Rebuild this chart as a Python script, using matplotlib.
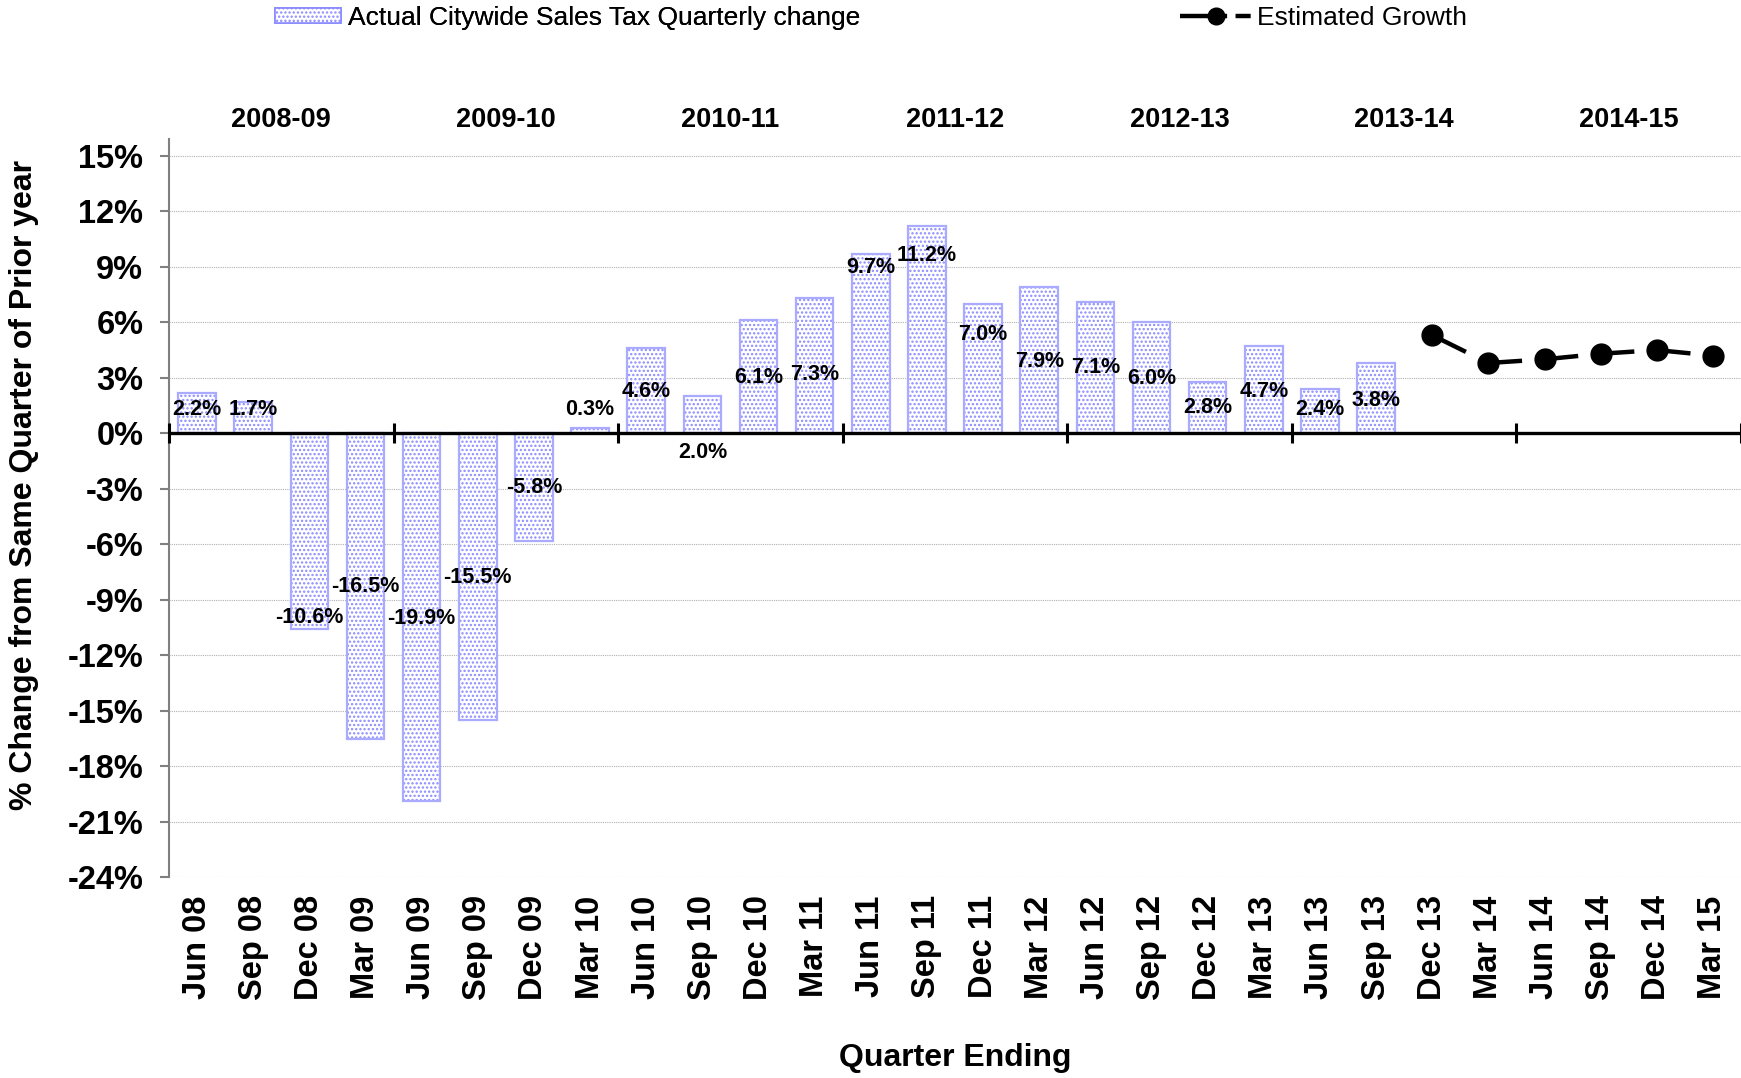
import numpy as np
import matplotlib
matplotlib.use('Agg')
import matplotlib.pyplot as plt
from matplotlib.patches import Patch
from matplotlib.lines import Line2D

plt.rcParams['font.family'] = ['Liberation Sans', 'DejaVu Sans']
plt.rcParams['hatch.linewidth'] = 1.1

quarters = ['Jun 08', 'Sep 08', 'Dec 08', 'Mar 09', 'Jun 09', 'Sep 09', 'Dec 09', 'Mar 10',
            'Jun 10', 'Sep 10', 'Dec 10', 'Mar 11', 'Jun 11', 'Sep 11', 'Dec 11', 'Mar 12',
            'Jun 12', 'Sep 12', 'Dec 12', 'Mar 13', 'Jun 13', 'Sep 13', 'Dec 13', 'Mar 14',
            'Jun 14', 'Sep 14', 'Dec 14', 'Mar 15']
fiscal_years = ['2008-09', '2009-10', '2010-11', '2011-12', '2012-13', '2013-14', '2014-15']

actual = [2.2, 1.7, -10.6, -16.5, -19.9, -15.5, -5.8, 0.3, 4.6, 2.0, 6.1, 7.3, 9.7, 11.2,
          7.0, 7.9, 7.1, 6.0, 2.8, 4.7, 2.4, 3.8]
estimated = [5.3, 3.8, 4.0, 4.3, 4.5, 4.2]

# where excel put each data label (in % units)
label_pos = [1.26, 1.26, -9.96, -8.28, -10.0, -7.8, -2.94, 1.26, 2.28, -1.02, 3.0, 3.18,
             8.94, 9.6, 5.34, 3.9, 3.54, 2.94, 1.38, 2.28, 1.26, 1.8]

DOT = '#8a8aff'
EDGE = '#aaaaff'

fig = plt.figure(figsize=(17.41, 10.78), dpi=100)
ax = fig.add_axes([0.0971, 0.1862, 0.9029, 0.6847])

x_act = np.arange(len(actual))
x_est = np.arange(len(actual), len(actual) + len(estimated))

# dotted fill, then a lighter outline on top
ax.bar(x_act, actual, width=0.67, color='white', edgecolor=DOT, hatch='....',
       linewidth=0, zorder=2)
ax.bar(x_act, actual, width=0.67, fill=False, edgecolor=EDGE, linewidth=1.6, zorder=2)

for xi, v, yp in zip(x_act, actual, label_pos):
    ax.text(xi, yp, f'{v:.1f}%', ha='center', va='center', fontsize=15.5,
            fontweight='bold', zorder=5)

# estimated growth: each segment drawn as a long dash that stops short of the next point
frac = 0.6
for i in range(len(estimated) - 1):
    x0, x1 = x_est[i], x_est[i + 1]
    y0, y1 = estimated[i], estimated[i + 1]
    ax.plot([x0, x0 + frac * (x1 - x0)], [y0, y0 + frac * (y1 - y0)],
            color='black', lw=3.2, solid_capstyle='butt', zorder=3)
ax.plot(x_est, estimated, 'o', color='black', ms=15, zorder=4)

ax.set_xlim(-0.5, len(quarters) - 0.5)
ax.set_ylim(-24, 15.9)
ax.set_yticks(np.arange(-24, 16, 3))
ax.set_yticklabels([f'{t}%' for t in range(-24, 16, 3)])
ax.set_xticks(np.arange(len(quarters)))
ax.set_xticklabels(quarters, rotation=90)

ax.grid(axis='y', color='#b0b0b0', linestyle=(0, (1, 1)), linewidth=0.8, zorder=0)
for s in ['top', 'right', 'bottom']:
    ax.spines[s].set_visible(False)
ax.spines['left'].set_color('#808080')
ax.spines['left'].set_linewidth(1.5)

ax.tick_params(axis='y', length=6.5, width=1.5, color='#808080', pad=12, labelsize=23.5)
ax.tick_params(axis='x', length=0, pad=13, labelsize=23.5)
for lab in ax.get_xticklabels() + ax.get_yticklabels():
    lab.set_fontweight('bold')

ax.axhline(0, color='black', lw=2.4, zorder=3)
ax.vlines(np.arange(-0.5, len(quarters), 4), -0.55, 0.55, color='black', lw=2.2,
          zorder=3, clip_on=False)

for k, fy in enumerate(fiscal_years):
    ax.text(4 * k + 1.5, 16.95, fy, ha='center', va='center', fontsize=19.5,
            fontweight='bold', clip_on=False)

fig.text(0.014, 1 - 485 / 1078, '% Change from Same Quarter of Prior year', rotation=90,
         ha='center', va='center', fontsize=23, fontweight='bold')
fig.text(955 / 1741, 1 - 1058 / 1078, 'Quarter Ending', ha='center', va='center',
         fontsize=23, fontweight='bold')

h1 = Patch(facecolor='white', edgecolor=DOT, hatch='....', linewidth=1.2)
leg1 = fig.legend([h1], ['Actual Citywide Sales Tax Quarterly change'], loc='center left',
                  bbox_to_anchor=(275 / 1741, 1 - 18 / 1078), frameon=False, fontsize=19,
                  handlelength=2.5, handleheight=0.5, handletextpad=0.27, borderpad=0,
                  borderaxespad=0)
h2 = Line2D([], [], color='black', lw=3.2, marker='o', ms=12,
            dashes=(10.6, 1.9, 3.4, 30))
fig.legend([h2], ['Estimated Growth'], loc='center left',
           bbox_to_anchor=(1180 / 1741, 1 - 18 / 1078), frameon=False, fontsize=19,
           handlelength=2.73, handletextpad=0.18, borderpad=0, borderaxespad=0, numpoints=1)
fig.add_artist(leg1)

fig.savefig('out.png', dpi=100)
